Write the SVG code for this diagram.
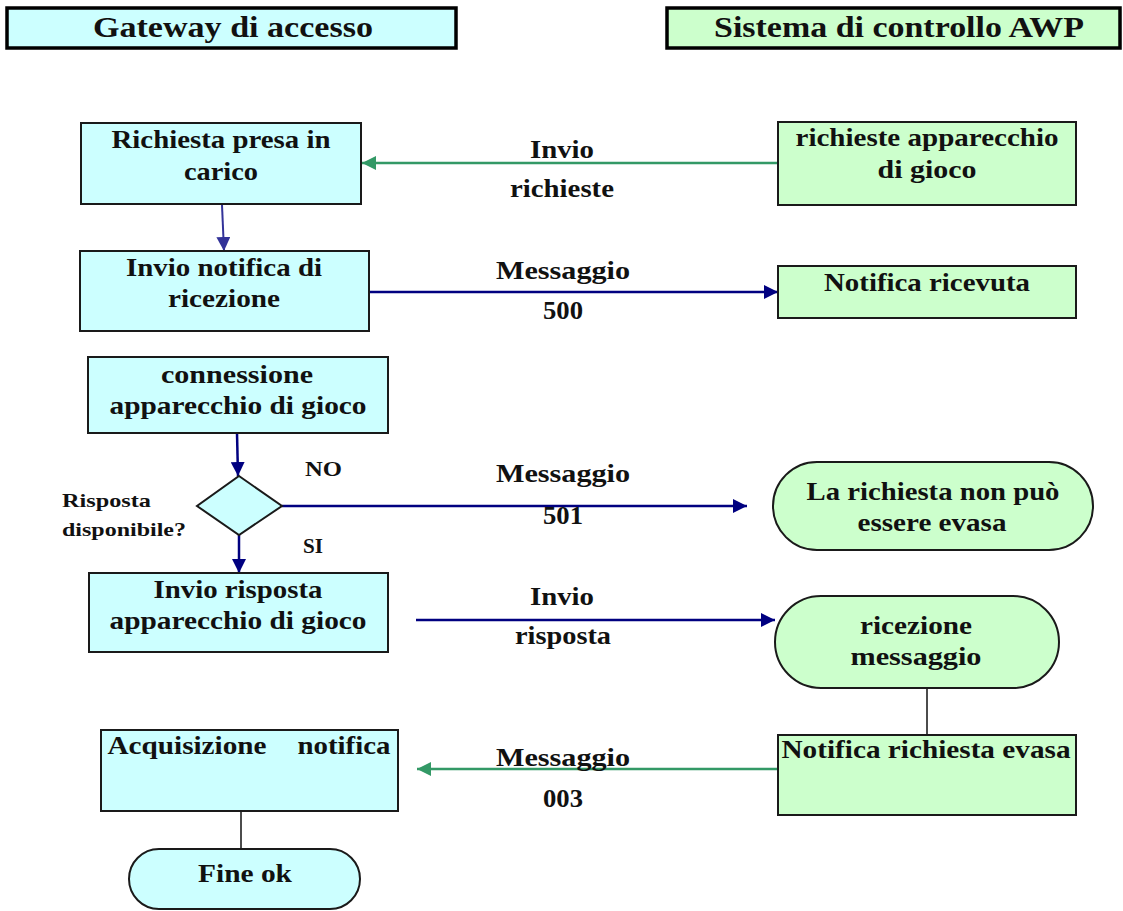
<svg xmlns="http://www.w3.org/2000/svg" width="1123" height="911" viewBox="0 0 1123 911">
<style>
.t{font-family:"Liberation Serif","Times New Roman",serif;font-weight:bold;font-size:26px;fill:#111;text-anchor:middle}
.h{font-size:30px}
.s{font-size:19px;text-anchor:start}
.n{font-size:21px;text-anchor:start}
.cy{fill:#ccffff;stroke:#1a1a1a;stroke-width:2}
.gr{fill:#ccffcc;stroke:#1a1a1a;stroke-width:2}
.hd{stroke-width:3.5;stroke:#000}
.nv{stroke:#000080;stroke-width:2.5;fill:none}
.gn{stroke:#339966;stroke-width:2.5;fill:none}
.bl{stroke:#333399;stroke-width:2;fill:none}
.k{stroke:#111;stroke-width:1.5;fill:none}
</style>
<defs>
<marker id="aN" markerUnits="userSpaceOnUse" markerWidth="14" markerHeight="14" refX="14" refY="7" orient="auto"><path d="M0,0 L14,7 L0,14 z" fill="#000080"/></marker>
<marker id="aG" markerUnits="userSpaceOnUse" markerWidth="14" markerHeight="14" refX="14" refY="7" orient="auto"><path d="M0,0 L14,7 L0,14 z" fill="#339966"/></marker>
<marker id="aB" markerUnits="userSpaceOnUse" markerWidth="14" markerHeight="14" refX="14" refY="7" orient="auto"><path d="M0,0 L14,7 L0,14 z" fill="#333399"/></marker>
</defs>
<rect width="1123" height="911" fill="#fff"/>

<g id="hdr-gateway">
<rect class="cy hd" x="7" y="8" width="449" height="40"/>
<text class="t h" x="233" y="37" textLength="280" lengthAdjust="spacingAndGlyphs">Gateway di accesso</text>
</g>
<g id="hdr-awp">
<rect class="gr hd" x="667" y="8" width="453" height="40"/>
<text class="t h" x="899" y="37" textLength="370" lengthAdjust="spacingAndGlyphs">Sistema di controllo AWP</text>
</g>

<g id="connectors">
<line class="gn" x1="778" y1="163" x2="362" y2="163" marker-end="url(#aG)"/>
<line class="bl" x1="222" y1="205" x2="224" y2="251" marker-end="url(#aB)"/>
<line class="nv" x1="369" y1="292" x2="778" y2="292" marker-end="url(#aN)"/>
<line class="nv" x1="237" y1="433" x2="238" y2="476" marker-end="url(#aN)"/>
<line class="nv" x1="282" y1="506" x2="747" y2="506" marker-end="url(#aN)"/>
<line class="nv" x1="239" y1="535" x2="239" y2="573" marker-end="url(#aN)"/>
<line class="nv" x1="416" y1="620" x2="775" y2="620" marker-end="url(#aN)"/>
<line class="k" x1="927" y1="688" x2="927" y2="735"/>
<line class="gn" x1="780" y1="769" x2="417" y2="769" marker-end="url(#aG)"/>
<line class="k" x1="241" y1="811" x2="241" y2="851"/>
<text class="t" x="562" y="158" textLength="64" lengthAdjust="spacingAndGlyphs">Invio</text>
<text class="t" x="562" y="197" textLength="104" lengthAdjust="spacingAndGlyphs">richieste</text>
<text class="t" x="563" y="279" textLength="134" lengthAdjust="spacingAndGlyphs">Messaggio</text>
<text class="t" x="563" y="319" textLength="40" lengthAdjust="spacingAndGlyphs">500</text>
<text class="t" x="563" y="482" textLength="134" lengthAdjust="spacingAndGlyphs">Messaggio</text>
<text class="t" x="563" y="524" textLength="40" lengthAdjust="spacingAndGlyphs">501</text>
<text class="t" x="562" y="605" textLength="64" lengthAdjust="spacingAndGlyphs">Invio</text>
<text class="t" x="563" y="644" textLength="96" lengthAdjust="spacingAndGlyphs">risposta</text>
<text class="t" x="563" y="766" textLength="134" lengthAdjust="spacingAndGlyphs">Messaggio</text>
<text class="t" x="563" y="807" textLength="40" lengthAdjust="spacingAndGlyphs">003</text>
<text class="t n" x="305" y="476" textLength="37" lengthAdjust="spacingAndGlyphs">NO</text>
<text class="t n" x="303" y="553" textLength="20" lengthAdjust="spacingAndGlyphs">SI</text>
</g>

<g id="n-richiesta-presa">
<rect class="cy" x="81" y="123" width="280" height="81"/>
<text class="t" x="221" y="148" textLength="219" lengthAdjust="spacingAndGlyphs">Richiesta presa in</text>
<text class="t" x="221" y="180" textLength="74" lengthAdjust="spacingAndGlyphs">carico</text>
</g>
<g id="n-invio-notifica">
<rect class="cy" x="80" y="251" width="289" height="80"/>
<text class="t" x="224" y="276" textLength="196" lengthAdjust="spacingAndGlyphs">Invio notifica di</text>
<text class="t" x="224" y="307" textLength="112" lengthAdjust="spacingAndGlyphs">ricezione</text>
</g>
<g id="n-connessione">
<rect class="cy" x="88" y="357" width="300" height="76"/>
<text class="t" x="237" y="383" textLength="152" lengthAdjust="spacingAndGlyphs">connessione</text>
<text class="t" x="238" y="414" textLength="257" lengthAdjust="spacingAndGlyphs">apparecchio di gioco</text>
</g>
<g id="n-decisione">
<polygon class="cy" points="239,476 282,506 239,535 197,506"/>
<text class="t s" x="62" y="507" textLength="89" lengthAdjust="spacingAndGlyphs">Risposta</text>
<text class="t s" x="62" y="536" textLength="124" lengthAdjust="spacingAndGlyphs">disponibile?</text>
</g>
<g id="n-invio-risposta">
<rect class="cy" x="89" y="573" width="299" height="79"/>
<text class="t" x="238" y="598" textLength="169" lengthAdjust="spacingAndGlyphs">Invio risposta</text>
<text class="t" x="238" y="629" textLength="257" lengthAdjust="spacingAndGlyphs">apparecchio di gioco</text>
</g>
<g id="n-acquisizione">
<rect class="cy" x="101" y="730" width="297" height="81"/>
<text class="t" x="187" y="754" textLength="159" lengthAdjust="spacingAndGlyphs">Acquisizione</text>
<text class="t" x="344" y="754" textLength="93" lengthAdjust="spacingAndGlyphs">notifica</text>
</g>
<g id="n-fine">
<rect class="cy" x="129" y="849" width="231" height="60" rx="30"/>
<text class="t" x="245" y="882" textLength="94" lengthAdjust="spacingAndGlyphs">Fine ok</text>
</g>

<g id="n-richieste-app">
<rect class="gr" x="778" y="122" width="298" height="83"/>
<text class="t" x="927" y="146" textLength="263" lengthAdjust="spacingAndGlyphs">richieste apparecchio</text>
<text class="t" x="927" y="178" textLength="99" lengthAdjust="spacingAndGlyphs">di gioco</text>
</g>
<g id="n-notifica-ricevuta">
<rect class="gr" x="778" y="266" width="298" height="52"/>
<text class="t" x="927" y="291" textLength="206" lengthAdjust="spacingAndGlyphs">Notifica ricevuta</text>
</g>
<g id="n-non-evasa">
<rect class="gr" x="773" y="462" width="320" height="88" rx="44"/>
<text class="t" x="933" y="500" textLength="253" lengthAdjust="spacingAndGlyphs">La richiesta non può</text>
<text class="t" x="932" y="531" textLength="149" lengthAdjust="spacingAndGlyphs">essere evasa</text>
</g>
<g id="n-ricezione">
<rect class="gr" x="775" y="596" width="284" height="92" rx="46"/>
<text class="t" x="916" y="634" textLength="112" lengthAdjust="spacingAndGlyphs">ricezione</text>
<text class="t" x="916" y="665" textLength="131" lengthAdjust="spacingAndGlyphs">messaggio</text>
</g>
<g id="n-notifica-evasa">
<rect class="gr" x="778" y="735" width="298" height="80"/>
<text class="t" x="926" y="758" textLength="289" lengthAdjust="spacingAndGlyphs">Notifica richiesta evasa</text>
</g>
</svg>
